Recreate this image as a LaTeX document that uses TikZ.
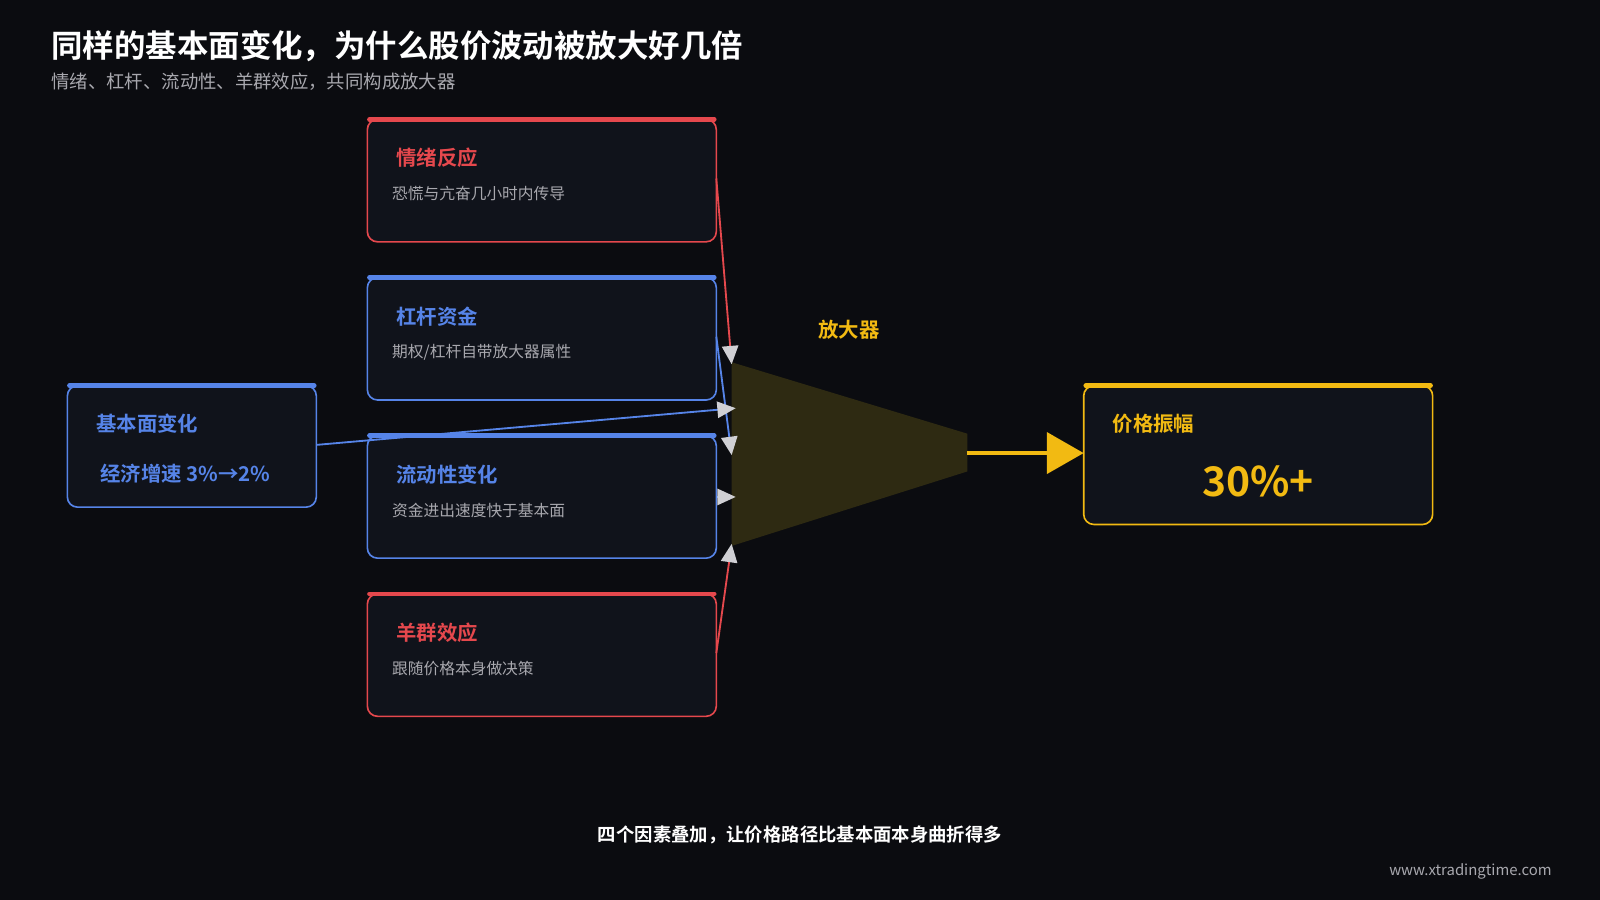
\documentclass[tikz,border=0pt]{standalone}
\usepackage{fontspec}
\setmainfont{Noto Sans CJK SC}[BoldFont={Noto Sans CJK SC Bold}]
\usetikzlibrary{arrows.meta}
\definecolor{bg}{HTML}{0B0C10}
\definecolor{boxf}{HTML}{10131B}
\definecolor{cred}{HTML}{E5484D}
\definecolor{cblue}{HTML}{5684E8}
\definecolor{cyel}{HTML}{F2BA12}
\definecolor{cgray}{HTML}{A8A8AE}
\definecolor{tri}{HTML}{2E2A12}
\definecolor{tip}{HTML}{D0D0D4}
\begin{document}
\begin{tikzpicture}[x=0.5pt,y=-0.5pt,
  box/.style={draw=#1,fill=boxf,line width=0.8pt,rounded corners=5pt},
  bar/.style={draw=#1,line width=2.2pt,line cap=round},
  ttl/.style={anchor=west,inner sep=0pt,font=\bfseries\fontsize{10}{12}\selectfont,text=#1},
  sub/.style={anchor=west,inner sep=0pt,font=\fontsize{7.7}{9}\selectfont,text=cgray},
  con/.style={draw=#1,line width=0.9pt,-{Triangle[length=9pt,width=8pt,fill=tip,color=tip]}}]
\useasboundingbox (0,0) rectangle (1568,882);
\fill[bg] (0,0) rectangle (1568,882);
\node[anchor=west,inner sep=0pt,font=\bfseries\fontsize{15.4}{18}\selectfont,text=white] (title) at (50,45) {同样的基本面变化，为什么股价波动被放大好几倍};
\node[anchor=west,inner sep=0pt,font=\fontsize{9}{10}\selectfont,text=cgray] (subt) at (50,80) {情绪、杠杆、流动性、羊群效应，共同构成放大器};
% triangle
\fill[tri] (717,355) -- (948,425) -- (948,462) -- (717,535) -- cycle;
\coordinate (t1) at (717,357);
\coordinate (t2) at (721,400);
\coordinate (t3) at (717,446);
\coordinate (t4) at (721,487);
\coordinate (t5) at (717,533);
% boxes
\foreach \n/\c/\y in {emo/cred/117,lev/cblue/272,liq/cblue/427,herd/cred/582}{
  \draw[box=\c] (360,\y) rectangle (702,\y+120);
  \draw[bar=\c] (362,\y) -- (700,\y);
}
\draw[box=cblue] (66,378) rectangle (310,497);
\draw[bar=cblue] (68,378) -- (308,378);
\draw[box=cyel] (1062,378) rectangle (1404,514);
\draw[bar=cyel] (1064,378) -- (1402,378);
\coordinate (emoR) at (702,175);
\coordinate (levR) at (702,330);
\coordinate (herdR) at (702,640);
\coordinate (funR) at (310,436);
\coordinate (liqR) at (702,487);
\draw[con=cred] (emoR) -- (t1);
\draw[con=cblue] (levR) -- (t3);
\draw[con=cblue] (funR) -- (t2);
\draw[con=cblue] (liqR) -- (t4);
\draw[con=cred] (herdR) -- (t5);
% texts
\node[ttl=cred] (emoT) at (388,155) {情绪反应};
\node[sub] (emoS) at (384,190) {恐慌与亢奋几小时内传导};
\node[ttl=cblue] (levT) at (388,310) {杠杆资金};
\node[sub] (levS) at (384,345) {期权/杠杆自带放大器属性};
\node[ttl=cblue] (liqT) at (388,465) {流动性变化};
\node[sub] (liqS) at (384,500) {资金进出速度快于基本面};
\node[ttl=cred] (herdT) at (388,620) {羊群效应};
\node[sub] (herdS) at (384,655) {跟随价格本身做决策};
\node[ttl=cblue] (funT) at (94,415) {基本面变化};
\node[ttl=cblue] (funS) at (98,464) {经济增速 3\%→2\%};
\node[font=\bfseries\fontsize{10}{12}\selectfont,text=cyel] (amp) at (832,323) {放大器};
\node[ttl=cyel] (prT) at (1090,415) {价格振幅};
\node[font=\bfseries\fontsize{20}{24}\selectfont,text=cyel] (prV) at (1233,472) {30\%+};
\coordinate (a0) at (948,444);
\draw[cyel,line width=2.2pt,-{Triangle[length=18pt,width=20pt]}] (a0) -- (1062,444);
\node[font=\bfseries\fontsize{9}{10}\selectfont,text=white] (cap) at (784,818) {四个因素叠加，让价格路径比基本面本身曲折得多};
\node[font=\fontsize{7.3}{8}\selectfont,text=cgray] (wm) at (1441,854) {www.xtradingtime.com};
\end{tikzpicture}
\end{document}
